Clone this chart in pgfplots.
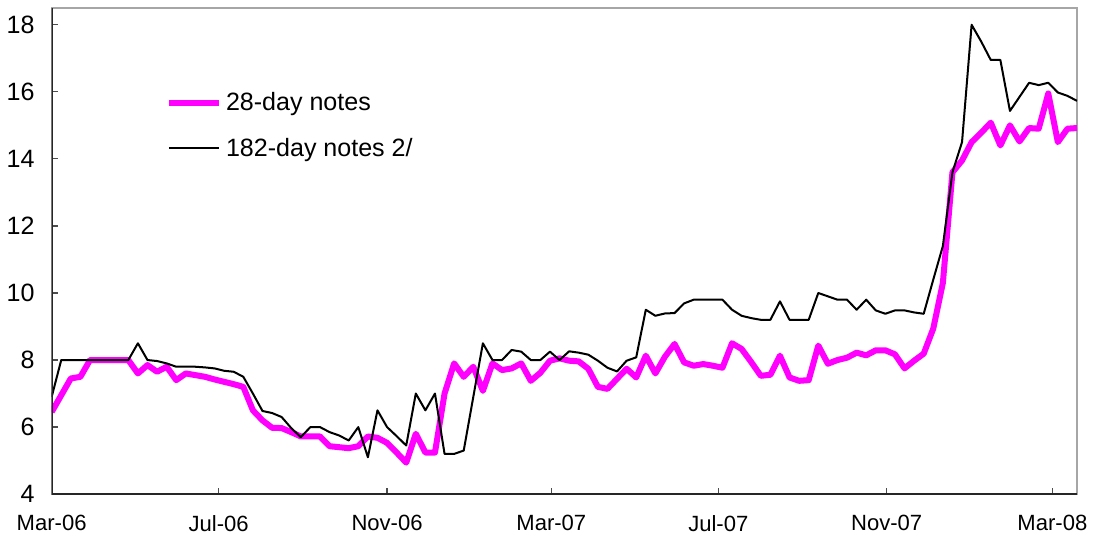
\documentclass[border=0pt]{standalone}
\usepackage{pgfplots}
\pgfplotsset{compat=1.18}
\usepackage{fontspec}
\setmainfont{Liberation Sans}
\definecolor{mag}{RGB}{255,0,255}

% weekly observations, x = weeks since 1 Mar 2006
\def\notesA{(0,6.45) (1,6.95) (2,7.45) (3,7.5) (4,8.0) (5,8.0) (6,8.0) (7,8.0) (8,8.0) (9,7.6)
(10,7.85) (11,7.65) (12,7.8) (13,7.4) (14,7.6) (15,7.55) (16,7.5) (17,7.42) (18,7.35) (19,7.28)
(20,7.2) (21,6.5) (22,6.2) (23,5.98) (24,5.97) (25,5.85) (26,5.72) (27,5.72) (28,5.72) (29,5.43)
(30,5.4) (31,5.37) (32,5.43) (33,5.72) (34,5.68) (35,5.53) (36,5.24) (37,4.94) (38,5.8) (39,5.24)
(40,5.24) (41,7.0) (42,7.9) (43,7.5) (44,7.8) (45,7.08) (46,7.9) (47,7.7) (48,7.75) (49,7.9)
(50,7.38) (51,7.62) (52,7.98) (53,8.05) (54,7.98) (55,7.96) (56,7.74) (57,7.2) (58,7.14) (59,7.44)
(60,7.74) (61,7.48) (62,8.13) (63,7.6) (64,8.1) (65,8.48) (66,7.93) (67,7.83) (68,7.88) (69,7.83)
(70,7.77) (71,8.5) (72,8.33) (73,7.94) (74,7.53) (75,7.56) (76,8.13) (77,7.48) (78,7.38) (79,7.4)
(80,8.43) (81,7.89) (82,8.0) (83,8.07) (84,8.22) (85,8.14) (86,8.29) (87,8.29) (88,8.17) (89,7.75)
(90,7.98) (91,8.19) (92,8.94) (93,10.3) (94,13.6) (95,13.95) (96,14.5) (97,14.78) (98,15.08) (99,14.4)
(100,15.0) (101,14.52) (102,14.92) (103,14.9) (104,15.95) (105,14.5) (106,14.9) (107,14.92)}
\def\notesB{(0,6.9) (1,8.0) (2,8.0) (3,8.0) (4,8.0) (5,8.0) (6,8.0) (7,8.0) (8,8.0) (9,8.5)
(10,8.0) (11,7.97) (12,7.9) (13,7.8) (14,7.8) (15,7.8) (16,7.78) (17,7.75) (18,7.68) (19,7.65)
(20,7.5) (21,7.0) (22,6.48) (23,6.42) (24,6.3) (25,5.97) (26,5.7) (27,6.0) (28,6.0) (29,5.85)
(30,5.75) (31,5.6) (32,6.0) (33,5.1) (34,6.5) (35,6.0) (36,5.73) (37,5.45) (38,7.0) (39,6.5)
(40,7.0) (41,5.2) (42,5.2) (43,5.3) (44,6.9) (45,8.5) (46,8.0) (47,8.0) (48,8.3) (49,8.25)
(50,8.0) (51,8.0) (52,8.25) (53,8.0) (54,8.26) (55,8.22) (56,8.16) (57,7.98) (58,7.77) (59,7.66)
(60,7.98) (61,8.08) (62,9.5) (63,9.32) (64,9.39) (65,9.4) (66,9.69) (67,9.8) (68,9.8) (69,9.8)
(70,9.8) (71,9.5) (72,9.32) (73,9.25) (74,9.2) (75,9.2) (76,9.75) (77,9.2) (78,9.2) (79,9.2)
(80,10.0) (81,9.9) (82,9.8) (83,9.8) (84,9.5) (85,9.8) (86,9.48) (87,9.38) (88,9.48) (89,9.48)
(90,9.42) (91,9.38) (92,10.4) (93,11.4) (94,13.6) (95,14.5) (96,18.0) (97,17.5) (98,16.95) (99,16.95)
(100,15.43) (101,15.85) (102,16.27) (103,16.2) (104,16.27) (105,15.98) (106,15.88) (107,15.73)}

\begin{document}
\begin{tikzpicture}
\begin{axis}[
  scale only axis,
  width=511.5pt, height=242.5pt,
  xmin=0, xmax=107, ymin=4, ymax=18.5,
  xtick={0,17.43,35.0,52.14,69.57,87.14,104.43},
  xticklabels={Mar-06,Jul-06,Nov-06,Mar-07,Jul-07,Nov-07,Mar-08},
  ytick={4,6,...,18},
  tick align=inside, major tick length=3pt,
  xtick pos=bottom, ytick pos=left,
  axis line style={gray!70, line width=0.9pt},
  tick style={gray!60!black, line width=0.6pt},
  font=\fontsize{12.5}{14}\selectfont,
  /pgf/number format/assume math mode=true,
  xticklabel style={yshift=-7pt, font=\fontsize{11}{13}\selectfont},
  yticklabel style={xshift=-5pt},
  legend style={draw=none, fill=none, at={(0.111,0.835)}, anchor=north west,
    row sep=8pt, font=\fontsize{12.5}{14}\selectfont, inner sep=0pt,
    nodes={inner xsep=2pt}},
  legend cell align=left,
  legend image code/.code={\draw[#1] (0pt,0pt) -- (25pt,0pt);},
]
\addplot[mag, line width=3pt, line join=round] coordinates {\notesA};
\addlegendentry{28-day notes}
\addplot[black, line width=1pt, line join=round] coordinates {\notesB};
\addlegendentry{182-day notes 2/}
\draw[black!85, line width=0.9pt] (rel axis cs:0,1) -- (rel axis cs:0,0) -- (rel axis cs:1,0);
\end{axis}
\path ([yshift=4pt]current axis.north);
\end{tikzpicture}
\end{document}
